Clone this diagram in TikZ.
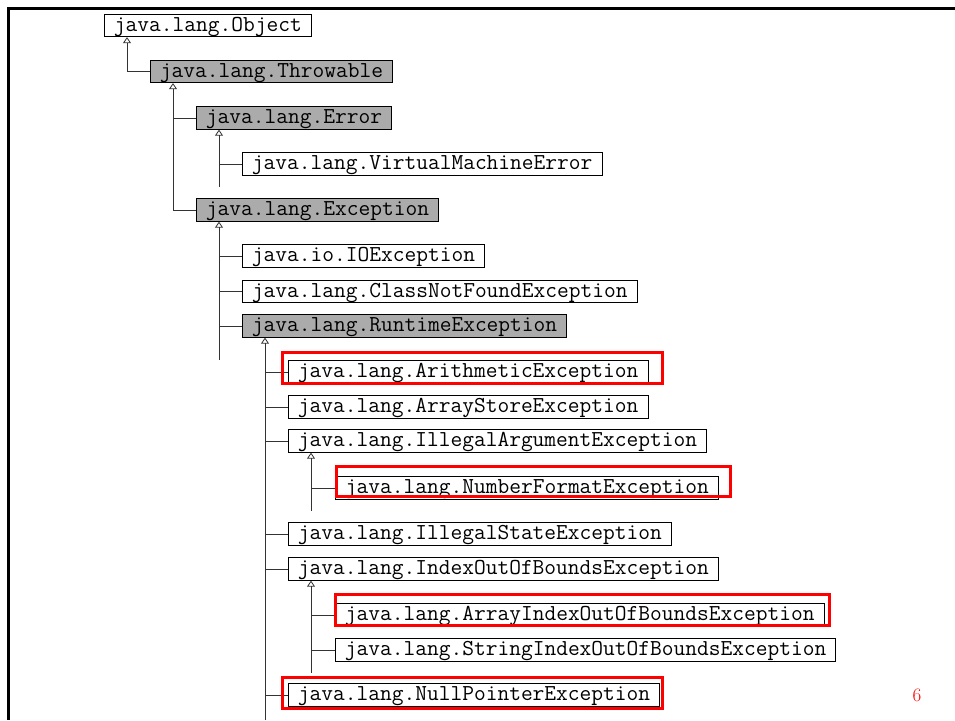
\documentclass[tikz,border=0pt]{standalone}
\usepackage{fontspec}
\usepackage{tikz}
\usetikzlibrary{arrows.meta,positioning,calc}

\begin{document}
\begin{tikzpicture}[
  x=1pt, y=-1pt,
  >={Triangle[open,width=8pt,length=6pt]},
  cls/.style={
    rectangle, draw=black, fill=white, line width=0.8pt,
    anchor=west, minimum height=22.5pt, inner xsep=9.5pt, inner ysep=2pt,
    text height=15pt, text depth=3.5pt,
    font=\ttfamily\fontsize{22.8}{24}\selectfont
  },
  abs/.style={cls, fill=black!33},
  conn/.style={draw=black!80, line width=0.8pt},
  hl/.style={draw=red, line width=3pt}
]
\useasboundingbox (0,0) rectangle (955,720);

% -- Moldura --
\draw[line width=3pt] (955,8) -- (8,8) -- (8,720);

% -- Classes --
\node[cls] (obj) at (104, 25.5) {java.lang.Object};
\node[abs] (thr) at (150, 71.5) {java.lang.Throwable};
\node[abs] (err) at (196, 118)  {java.lang.Error};
\node[cls] (vme) at (242, 164)  {java.lang.VirtualMachineError};
\node[abs] (exc) at (196, 210)  {java.lang.Exception};
\node[cls] (ioe) at (242, 256)  {java.io.IOException};
\node[cls] (cnf) at (242, 291.5){java.lang.ClassNotFoundException};
\node[abs] (rte) at (242, 326)  {java.lang.RuntimeException};
\node[cls] (ari) at (288, 372)  {java.lang.ArithmeticException};
\node[cls] (ase) at (288, 407)  {java.lang.ArrayStoreException};
\node[cls] (iae) at (288, 441)  {java.lang.IllegalArgumentException};
\node[cls] (nfe) at (335, 488)  {java.lang.NumberFormatException};
\node[cls] (ise) at (288, 534)  {java.lang.IllegalStateException};
\node[cls] (iob) at (288, 569)  {java.lang.IndexOutOfBoundsException};
\node[cls] (aio) at (335, 615)  {java.lang.ArrayIndexOutOfBoundsException};
\node[cls] (sio) at (335, 650)  {java.lang.StringIndexOutOfBoundsException};
\node[cls] (npe) at (288, 695)  {java.lang.NullPointerException};

% -- Troncos (heranca) --
\coordinate (objT) at ([xshift=23pt]obj.south west);
\coordinate (thrT) at ([xshift=23pt]thr.south west);
\coordinate (errT) at ([xshift=23pt]err.south west);
\coordinate (excT) at ([xshift=23pt]exc.south west);
\coordinate (rteT) at ([xshift=23pt]rte.south west);
\coordinate (iaeT) at ([xshift=23pt]iae.south west);
\coordinate (iobT) at ([xshift=23pt]iob.south west);

\coordinate (errE) at (errT |- 0,187);
\coordinate (excE) at (excT |- 0,360);
\coordinate (rteE) at (rteT |- 0,720);
\coordinate (iaeE) at (iaeT |- 0,511);
\coordinate (iobE) at (iobT |- 0,673);

\draw[conn,<-] (objT) |- (thr.west);
\draw[conn,<-] (thrT) |- (exc.west);
\draw[conn,<-] (errT) -- (errE);
\draw[conn,<-] (excT) -- (excE);
\draw[conn,<-] (rteT) -- (rteE);
\draw[conn,<-] (iaeT) -- (iaeE);
\draw[conn,<-] (iobT) -- (iobE);

% -- Ramos --
\draw[conn] (thrT |- err.west) -- (err.west);
\draw[conn] (errT |- vme.west) -- (vme.west);
\foreach \c in {ioe,cnf,rte}
  \draw[conn] (excT |- \c.west) -- (\c.west);
\foreach \c in {ari,ase,iae,ise,iob,npe}
  \draw[conn] (rteT |- \c.west) -- (\c.west);
\draw[conn] (iaeT |- nfe.west) -- (nfe.west);
\foreach \c in {aio,sio}
  \draw[conn] (iobT |- \c.west) -- (\c.west);

% -- Destaques --
\draw[hl] (282,352) rectangle (662,383);
\draw[hl] (336,466) rectangle (730,496);
\draw[hl] (335,594) rectangle (829,625);
\draw[hl] (282,677) rectangle (662,708);

% -- Numero da pagina --
\node[text=red, font=\fontsize{19}{22}\selectfont] (pg) at (917,695) {6};

\end{tikzpicture}
\end{document}
